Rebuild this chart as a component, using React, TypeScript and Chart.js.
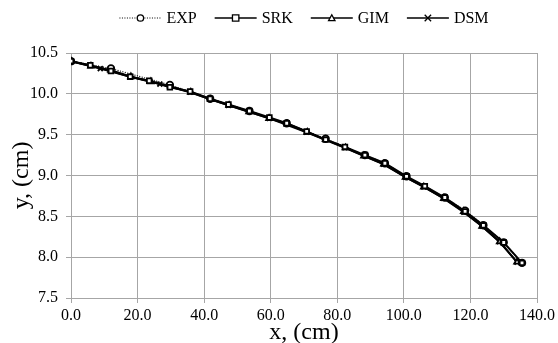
import React, { useEffect, useRef } from "react";
import { Chart, registerables } from "chart.js";
Chart.register(...registerables);

const seriesNames = ["EXP", "SRK", "GIM", "DSM"];

const expX = [0, 12, 29.7, 41.8, 53.6, 64.8, 76.5, 88.3, 94.3, 100.8, 112.3, 118.4, 123.9, 130, 135.5];
const expY = [10.4, 10.31, 10.11, 9.94, 9.79, 9.64, 9.45, 9.25, 9.15, 8.99, 8.73, 8.57, 8.39, 8.18, 7.93];

const srkX = [0, 5.8, 12, 17.8, 23.5, 29.7, 35.8, 41.8, 47.3, 53.6, 59.6, 64.8, 70.8, 76.5, 82.3, 88.3, 94.3, 100.8, 106.3, 112.3, 118.4, 123.9, 130, 135.5];
const srkY = [10.4, 10.35, 10.28, 10.21, 10.16, 10.08, 10.03, 9.94, 9.87, 9.79, 9.71, 9.64, 9.54, 9.44, 9.35, 9.25, 9.15, 8.99, 8.87, 8.73, 8.56, 8.39, 8.18, 7.93];

const gimX = [0, 6, 12, 18, 24, 30, 36, 42, 47.5, 53.5, 59.5, 65, 71, 76.5, 82.5, 88, 94, 100.5, 106, 112, 118, 123.5, 128.8, 134];
const gimY = [10.4, 10.34, 10.29, 10.21, 10.15, 10.09, 10.02, 9.93, 9.86, 9.78, 9.7, 9.63, 9.53, 9.44, 9.34, 9.24, 9.14, 8.98, 8.86, 8.72, 8.56, 8.38, 8.19, 7.94];

const dsmX = [0, 8.8, 17.8, 26.7, 35.8, 47.3, 59.6, 70.8, 82.3, 93.8, 100.5, 106, 112, 118, 123.5, 128.7, 134];
const dsmY = [10.4, 10.31, 10.21, 10.12, 10.02, 9.86, 9.7, 9.53, 9.34, 9.14, 8.98, 8.86, 8.72, 8.55, 8.38, 8.19, 7.94];

const xTicks = [0, 20, 40, 60, 80, 100, 120, 140];
const yTicks = [7.5, 8.0, 8.5, 9.0, 9.5, 10.0, 10.5];

const FONT = "'Liberation Serif', 'Times New Roman', serif";
const GRID = "#a6a6a6";

const toPts = (xs: number[], ys: number[]) => xs.map((x, i) => ({ x, y: ys[i] }));

function drawMarker(ctx: CanvasRenderingContext2D, style: string, x: number, y: number, r: number) {
  ctx.save();
  ctx.strokeStyle = "#000";
  ctx.fillStyle = "#fff";
  ctx.lineWidth = 1.3;
  ctx.setLineDash([]);
  ctx.beginPath();
  if (style === "circle") {
    ctx.arc(x, y, r, 0, Math.PI * 2);
    ctx.fill();
    ctx.stroke();
  } else if (style === "rect") {
    ctx.rect(x - r, y - r, 2 * r, 2 * r);
    ctx.fill();
    ctx.stroke();
  } else if (style === "triangle") {
    ctx.moveTo(x, y - r);
    ctx.lineTo(x + r, y + r * 0.8);
    ctx.lineTo(x - r, y + r * 0.8);
    ctx.closePath();
    ctx.fill();
    ctx.stroke();
  } else {
    ctx.moveTo(x - r, y - r);
    ctx.lineTo(x + r, y + r);
    ctx.moveTo(x + r, y - r);
    ctx.lineTo(x - r, y + r);
    ctx.stroke();
  }
  ctx.restore();
}

const legendPlugin = {
  id: "customLegend",
  afterDraw(chart: any) {
    const ctx = chart.ctx as CanvasRenderingContext2D;
    const styles = ["circle", "rect", "triangle", "crossRot"];
    const dashes = [[1, 1.5], [], [], []];
    const lineLen = 42;
    const gap = 5;
    const itemGap = 18;
    ctx.save();
    ctx.font = `16px ${FONT}`;
    const widths = seriesNames.map((n) => ctx.measureText(n).width);
    const total = widths.reduce((a, w) => a + lineLen + gap + w, 0) + itemGap * (seriesNames.length - 1);
    const cx = (chart.chartArea.left + chart.chartArea.right) / 2;
    let x = cx - total / 2;
    const y = 18;
    seriesNames.forEach((name, i) => {
      ctx.strokeStyle = "#000";
      ctx.lineWidth = i === 0 ? 1 : 1.6;
      ctx.setLineDash(dashes[i]);
      ctx.beginPath();
      ctx.moveTo(x, y);
      ctx.lineTo(x + lineLen, y);
      ctx.stroke();
      ctx.setLineDash([]);
      drawMarker(ctx, styles[i], x + lineLen / 2, y, 3.2);
      ctx.fillStyle = "#000";
      ctx.textAlign = "left";
      ctx.textBaseline = "middle";
      ctx.fillText(name, x + lineLen + gap, y + 1);
      x += lineLen + gap + widths[i] + itemGap;
    });
    ctx.restore();
  },
};

export default function App() {
  const ref = useRef<HTMLCanvasElement>(null);
  useEffect(() => {
    if (!ref.current) return;
    const common = {
      borderColor: "#000",
      pointBorderColor: "#000",
      pointBackgroundColor: "#fff",
      pointRadius: 3.3,
      pointBorderWidth: 1.8,
      tension: 0,
      fill: false,
    };
    const chart = new Chart(ref.current, {
      type: "line",
      data: {
        datasets: [
          { ...common, label: seriesNames[0], order: 1, data: toPts(expX, expY), borderWidth: 1.2, borderDash: [1, 1.5], pointStyle: "circle" },
          { ...common, label: seriesNames[1], order: 0, data: toPts(srkX, srkY), borderWidth: 2, pointStyle: "rect" },
          { ...common, label: seriesNames[2], order: 2, data: toPts(gimX, gimY), borderWidth: 2, pointStyle: "triangle" },
          { ...common, label: seriesNames[3], order: 3, data: toPts(dsmX, dsmY), borderWidth: 2, pointStyle: "crossRot", pointRadius: 3.5 },
        ],
      },
      options: {
        animation: false,
        responsive: false,
        maintainAspectRatio: false,
        layout: { padding: { top: 53, right: 21, left: 0, bottom: 0 } },
        plugins: { legend: { display: false }, tooltip: { enabled: false } },
        scales: {
          x: {
            type: "linear",
            min: 0,
            max: 140,
            afterBuildTicks: (s: any) => { s.ticks = xTicks.map((v) => ({ value: v })); },
            afterFit: (s: any) => { s.height = 45; },
            ticks: {
              callback: (v: any) => Number(v).toFixed(1),
              font: { family: FONT, size: 16 },
              color: "#000",
              padding: 3,
              maxRotation: 0,
            },
            grid: { color: GRID, lineWidth: 1, tickLength: 5, tickColor: GRID },
            border: { color: GRID, width: 1 },
            title: {
              display: true,
              text: "x, (cm)",
              font: { family: FONT, size: 24 },
              color: "#000",
              padding: { top: 0, bottom: -4 },
            },
          },
          y: {
            type: "linear",
            min: 7.5,
            max: 10.5,
            afterBuildTicks: (s: any) => { s.ticks = yTicks.map((v) => ({ value: v })); },
            afterFit: (s: any) => { s.width = 71; },
            ticks: {
              callback: (v: any) => Number(v).toFixed(1),
              font: { family: FONT, size: 16 },
              color: "#000",
              padding: 8,
            },
            grid: { color: GRID, lineWidth: 1, tickLength: 5, tickColor: GRID },
            border: { color: GRID, width: 1 },
            title: {
              display: true,
              text: "y, (cm)",
              font: { family: FONT, size: 24 },
              color: "#000",
              padding: { top: 7, bottom: 0 },
            },
          },
        },
      },
      plugins: [legendPlugin],
    });
    return () => chart.destroy();
  }, []);
  return (
    <div style={{ position: "fixed", left: 0, top: 0, width: 558, height: 343, background: "#fff" }}>
      <canvas ref={ref} width={558} height={343} style={{ display: "block" }} />
    </div>
  );
}
